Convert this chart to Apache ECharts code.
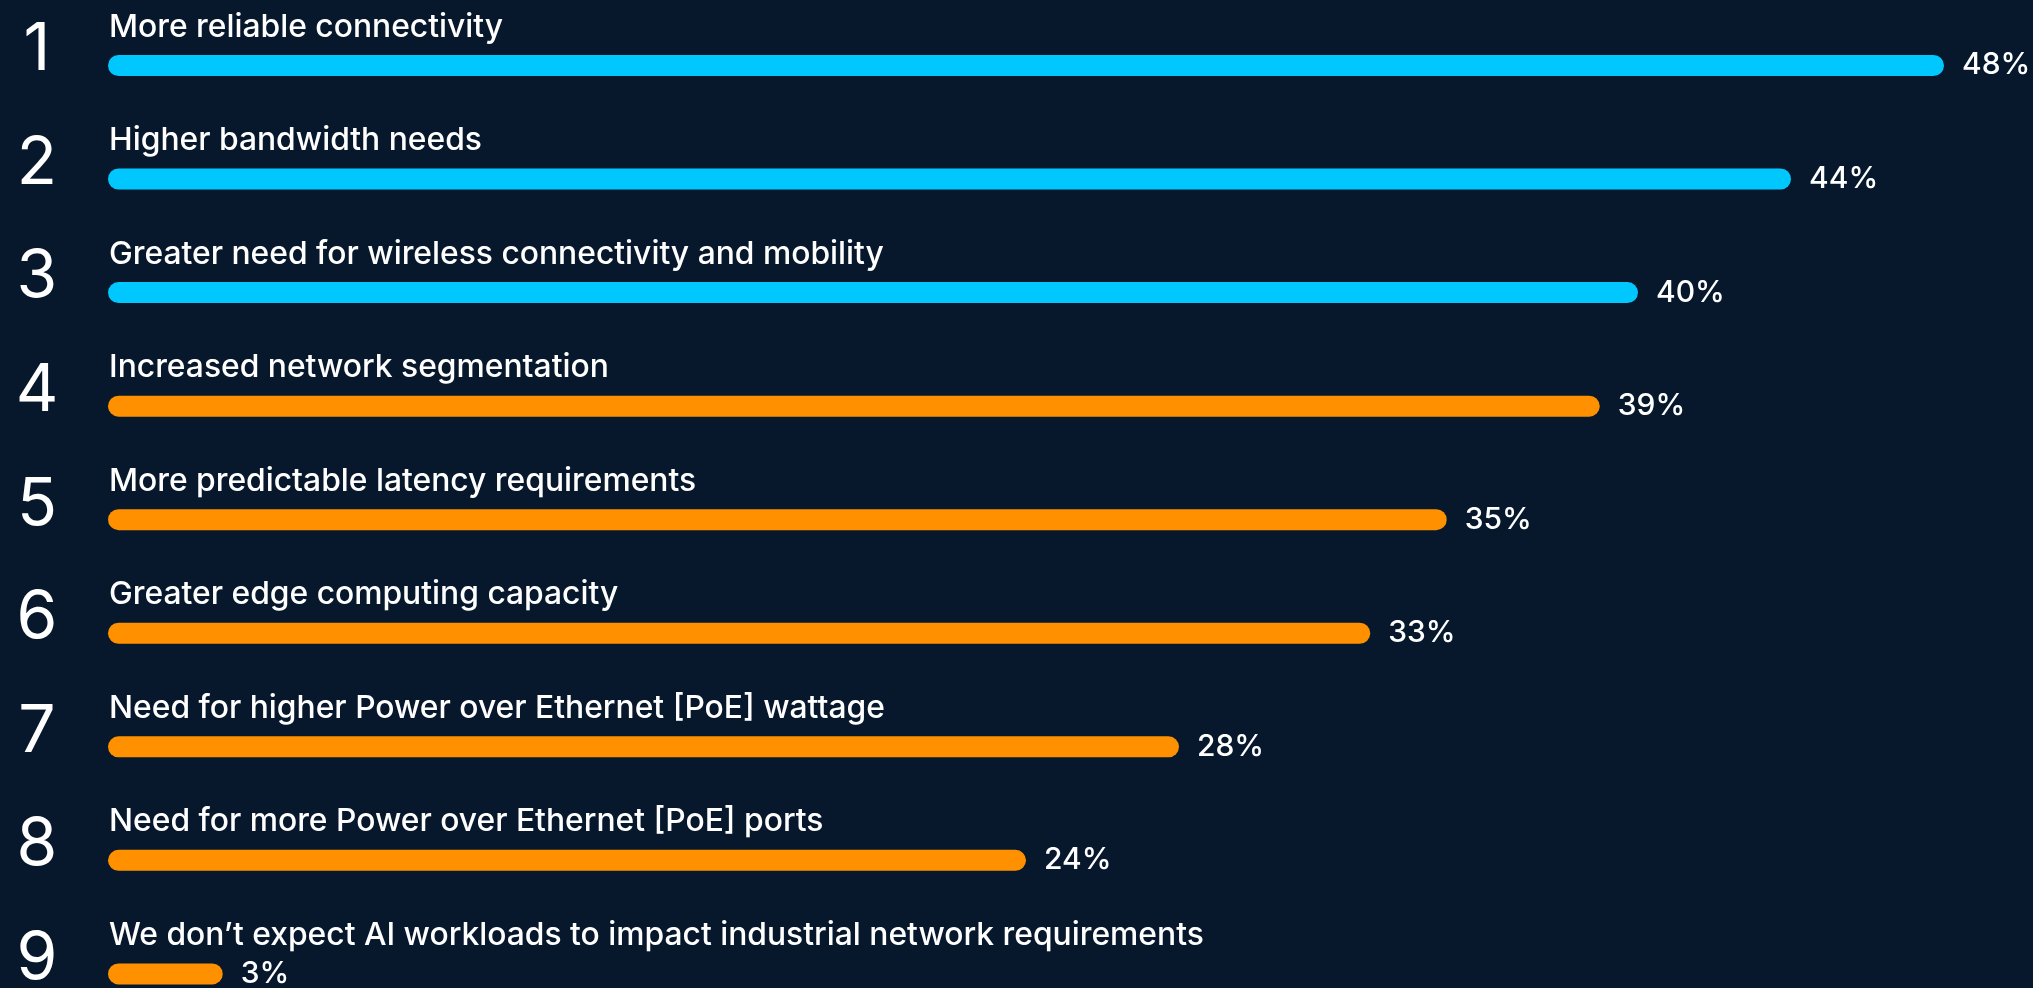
<!DOCTYPE html>
<html>
<head>
<meta charset="utf-8">
<style>
  html, body { margin: 0; padding: 0; background: #07182D; }
  #chart { width: 2033px; height: 988px; }
</style>
<script src="https://cdn.jsdelivr.net/npm/echarts@6/dist/echarts.min.js"></script>
</head>
<body>
<div id="chart"></div>
<script>
const categories = [
  "More reliable connectivity",
  "Higher bandwidth needs",
  "Greater need for wireless connectivity and mobility",
  "Increased network segmentation",
  "More predictable latency requirements",
  "Greater edge computing capacity",
  "Need for higher Power over Ethernet [PoE] wattage",
  "Need for more Power over Ethernet [PoE] ports",
  "We don\u2019t expect AI workloads to impact industrial network requirements"
];
const values = [48, 44, 40, 39, 35, 33, 28, 24, 3];
const ranks = ["1", "2", "3", "4", "5", "6", "7", "8", "9"];
const highlightedCount = 3;

const CYAN = "#00C8FF";
const ORANGE = "#FF9100";
const FONT = "Inter, 'Noto Sans', sans-serif";

const chart = echarts.init(document.getElementById("chart"), null, { renderer: "canvas" });

chart.setOption({
  backgroundColor: "#07182D",
  animation: false,
  grid: { left: 108, right: 12.5, top: 8.7, height: 1022, outerBoundsMode: "none", containLabel: false },
  xAxis: {
    type: "value", min: 0, max: 50,
    show: false
  },
  yAxis: {
    type: "category", data: categories, inverse: true,
    axisLine: { show: false }, axisTick: { show: false },
    axisLabel: { show: false }, splitLine: { show: false }
  },
  series: [
    {
      name: "values",
      type: "bar",
      data: values,
      barWidth: 21,
      barGap: "-100%",
      itemStyle: {
        borderRadius: 10.5,
        color: p => p.dataIndex < highlightedCount ? CYAN : ORANGE
      },
      label: {
        show: true, position: "right", distance: 18,
        formatter: p => p.value + "%",
        color: "#FFFFFF", fontFamily: FONT, fontSize: 30, fontWeight: 500
      }
    },
    {
      name: "names",
      type: "bar",
      data: values,
      barWidth: 21,
      barGap: "-100%",
      silent: true,
      itemStyle: { color: "rgba(0,0,0,0)" },
      label: {
        show: true, position: [1, -28], align: "left", verticalAlign: "middle",
        formatter: p => categories[p.dataIndex],
        color: "#FFFFFF", fontFamily: FONT, fontSize: 31.8, fontWeight: 500
      }
    },
    {
      name: "ranks",
      type: "bar",
      data: values,
      barWidth: 21,
      barGap: "-100%",
      silent: true,
      itemStyle: { color: "rgba(0,0,0,0)" },
      label: {
        show: true, position: [-71, -4.5], align: "center", verticalAlign: "middle",
        formatter: p => ranks[p.dataIndex],
        color: "#FFFFFF", fontFamily: FONT, fontSize: 66, fontWeight: 400
      }
    }
  ]
});
</script>
</body>
</html>
